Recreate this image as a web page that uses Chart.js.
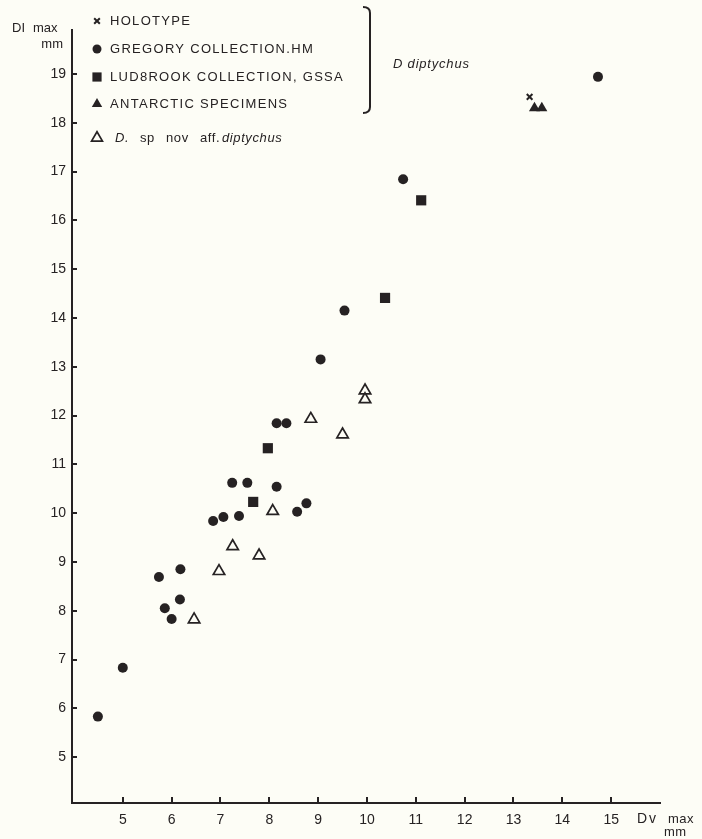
<!DOCTYPE html>
<html>
<head>
<meta charset="utf-8">
<script src="https://cdn.jsdelivr.net/npm/chart.js@4"></script>
<style>
  html, body { margin: 0; padding: 0; background: #fdfdf6; }
  #wrap { width: 702px; height: 839px; }
</style>
</head>
<body>
<div id="wrap"><canvas id="chart" width="702" height="839"></canvas></div>
<script>
// values: [Dv max, DI max] in mm
const holotype = [[13.33, 18.53]];
const gregory = [
    [4.49, 5.83], [5.0, 6.83], [6.0, 7.83], [5.86, 8.05], [6.17, 8.23],
    [5.74, 8.69], [6.18, 8.85], [6.85, 9.84], [7.06, 9.92], [7.38, 9.94],
    [7.24, 10.62], [7.55, 10.62], [8.15, 10.54], [8.57, 10.03], [8.76, 10.2],
    [8.15, 11.84], [8.35, 11.84], [9.05, 13.15], [9.54, 14.15], [10.74, 16.84],
    [14.73, 18.94]
];
const ludbrook = [[7.67, 10.23], [7.97, 11.33], [10.37, 14.41], [11.11, 16.41]];
const antarctic = [[13.43, 18.3], [13.58, 18.3]];
const spNov = [
    [6.46, 7.82], [6.97, 8.81], [7.25, 9.32], [7.79, 9.13], [8.07, 10.04],
    [8.85, 11.93], [9.5, 11.61], [9.96, 12.51], [9.96, 12.33]
];

const xTicks = [5, 6, 7, 8, 9, 10, 11, 12, 13, 14, 15];
const yTicks = [5, 6, 7, 8, 9, 10, 11, 12, 13, 14, 15, 16, 17, 18, 19];

const ink = '#262223';
const paper = '#fdfdf6';
const FONT = '"Liberation Sans", Arial, sans-serif';

const toPts = arr => arr.map(([x, y]) => ({ x, y }));

// Axis titles, inside tick marks, legend with bracket
const decor = {
    id: 'decor',
    afterDraw(chart) {
        const { ctx, chartArea: a, scales: { x, y } } = chart;
        ctx.save();
        ctx.strokeStyle = ink;
        ctx.fillStyle = ink;
        ctx.lineWidth = 2;

        // tick marks point inwards
        ctx.beginPath();
        xTicks.forEach(v => {
            const px = Math.round(x.getPixelForValue(v));
            ctx.moveTo(px, a.bottom);
            ctx.lineTo(px, a.bottom - 6);
        });
        yTicks.forEach(v => {
            const py = Math.round(y.getPixelForValue(v));
            ctx.moveTo(a.left, py);
            ctx.lineTo(a.left + 5, py);
        });
        ctx.stroke();

        // axis titles
        ctx.font = `13px ${FONT}`;
        ctx.textBaseline = 'middle';
        ctx.textAlign = 'left';
        ctx.fillText('DI', 12, 28);
        ctx.fillText('max', 33, 28);
        ctx.textAlign = 'right';
        ctx.fillText('mm', 63, 44);
        ctx.textAlign = 'left';
        ctx.font = `14px ${FONT}`;
        ctx.letterSpacing = '2px';
        ctx.fillText('Dv', 637, 819);
        ctx.letterSpacing = '0.5px';
        ctx.font = `13px ${FONT}`;
        ctx.fillText('max', 668, 819);
        ctx.fillText('mm', 664, 832);

        // legend
        const rows = [21, 49, 77, 104, 138];
        ctx.font = `13px ${FONT}`;
        chart.data.datasets.forEach((ds, i) => {
            const ry = rows[i];
            ctx.fillStyle = ds.backgroundColor;
            ctx.strokeStyle = ds.borderColor;
            ctx.lineWidth = ds.borderWidth;
            Chart.helpers.drawPoint(ctx, {
                pointStyle: ds.pointStyle,
                radius: ds.legendRadius,
                borderWidth: ds.borderWidth,
                rotation: 0
            }, 97, ry);
            ctx.fillStyle = ink;
            if (i < 4) {
                ctx.letterSpacing = '1.3px';
                ctx.font = `13px ${FONT}`;
                ctx.fillText(ds.label, 110, ry);
            }
        });
        // mixed italic label for the last row
        ctx.letterSpacing = '0.6px';
        const parts = [
            ['D.', 115, true], ['sp', 140, false], ['nov', 166, false],
            ['aff.', 200, false], ['diptychus', 222, true]
        ];
        parts.forEach(([t, px, it]) => {
            ctx.font = `${it ? 'italic ' : ''}13px ${FONT}`;
            ctx.fillText(t, px, 138);
        });

        // bracket
        ctx.strokeStyle = ink;
        ctx.lineWidth = 2;
        ctx.beginPath();
        ctx.moveTo(363, 7);
        ctx.quadraticCurveTo(370, 7, 370, 13);
        ctx.lineTo(370, 107);
        ctx.quadraticCurveTo(370, 113, 363, 113);
        ctx.stroke();

        ctx.letterSpacing = '0.8px';
        ctx.font = `italic 13px ${FONT}`;
        ctx.fillText('D diptychus', 393, 64);
        ctx.restore();
    }
};

new Chart(document.getElementById('chart'), {
    type: 'scatter',
    data: {
        datasets: [
            {
                label: 'HOLOTYPE', data: toPts(holotype),
                pointStyle: 'crossRot', pointRadius: 4, legendRadius: 4, borderWidth: 2,
                borderColor: ink, backgroundColor: ink
            },
            {
                label: 'GREGORY COLLECTION.HM', data: toPts(gregory),
                pointStyle: 'circle', pointRadius: 5, legendRadius: 4.5, borderWidth: 0,
                borderColor: ink, backgroundColor: ink
            },
            {
                label: 'LUD8ROOK COLLECTION, GSSA', data: toPts(ludbrook),
                pointStyle: 'rect', pointRadius: 7.2, legendRadius: 6.5, borderWidth: 0,
                borderColor: ink, backgroundColor: ink
            },
            {
                label: 'ANTARCTIC SPECIMENS', data: toPts(antarctic),
                pointStyle: 'triangle', pointRadius: 6.4, legendRadius: 6, borderWidth: 0,
                borderColor: ink, backgroundColor: ink
            },
            {
                label: 'D. sp nov aff. diptychus', data: toPts(spNov),
                pointStyle: 'triangle', pointRadius: 6.6, legendRadius: 6.3, borderWidth: 1.7,
                borderColor: ink, backgroundColor: paper
            }
        ]
    },
    options: {
        responsive: false,
        animation: false,
        devicePixelRatio: 1,
        layout: { padding: { top: 30, right: 42, left: 0, bottom: 0 } },
        plugins: { legend: { display: false }, tooltip: { enabled: false } },
        scales: {
            x: {
                type: 'linear', min: 3.96, max: 16.0,
                grid: { display: false, drawTicks: false },
                border: { color: ink, width: 2 },
                afterBuildTicks: s => { s.ticks = xTicks.map(v => ({ value: v })); },
                afterFit: s => { s.height = 36; },
                ticks: { padding: 9, color: ink, autoSkip: false, maxRotation: 0, font: { family: FONT, size: 14 } }
            },
            y: {
                type: 'linear', min: 4.06, max: 19.9,
                grid: { display: false, drawTicks: false },
                border: { color: ink, width: 2 },
                afterBuildTicks: s => { s.ticks = yTicks.map(v => ({ value: v })); },
                afterFit: s => { s.width = 72; },
                ticks: { padding: 6, color: ink, autoSkip: false, font: { family: FONT, size: 14 } }
            }
        }
    },
    plugins: [decor]
});
</script>
</body>
</html>
